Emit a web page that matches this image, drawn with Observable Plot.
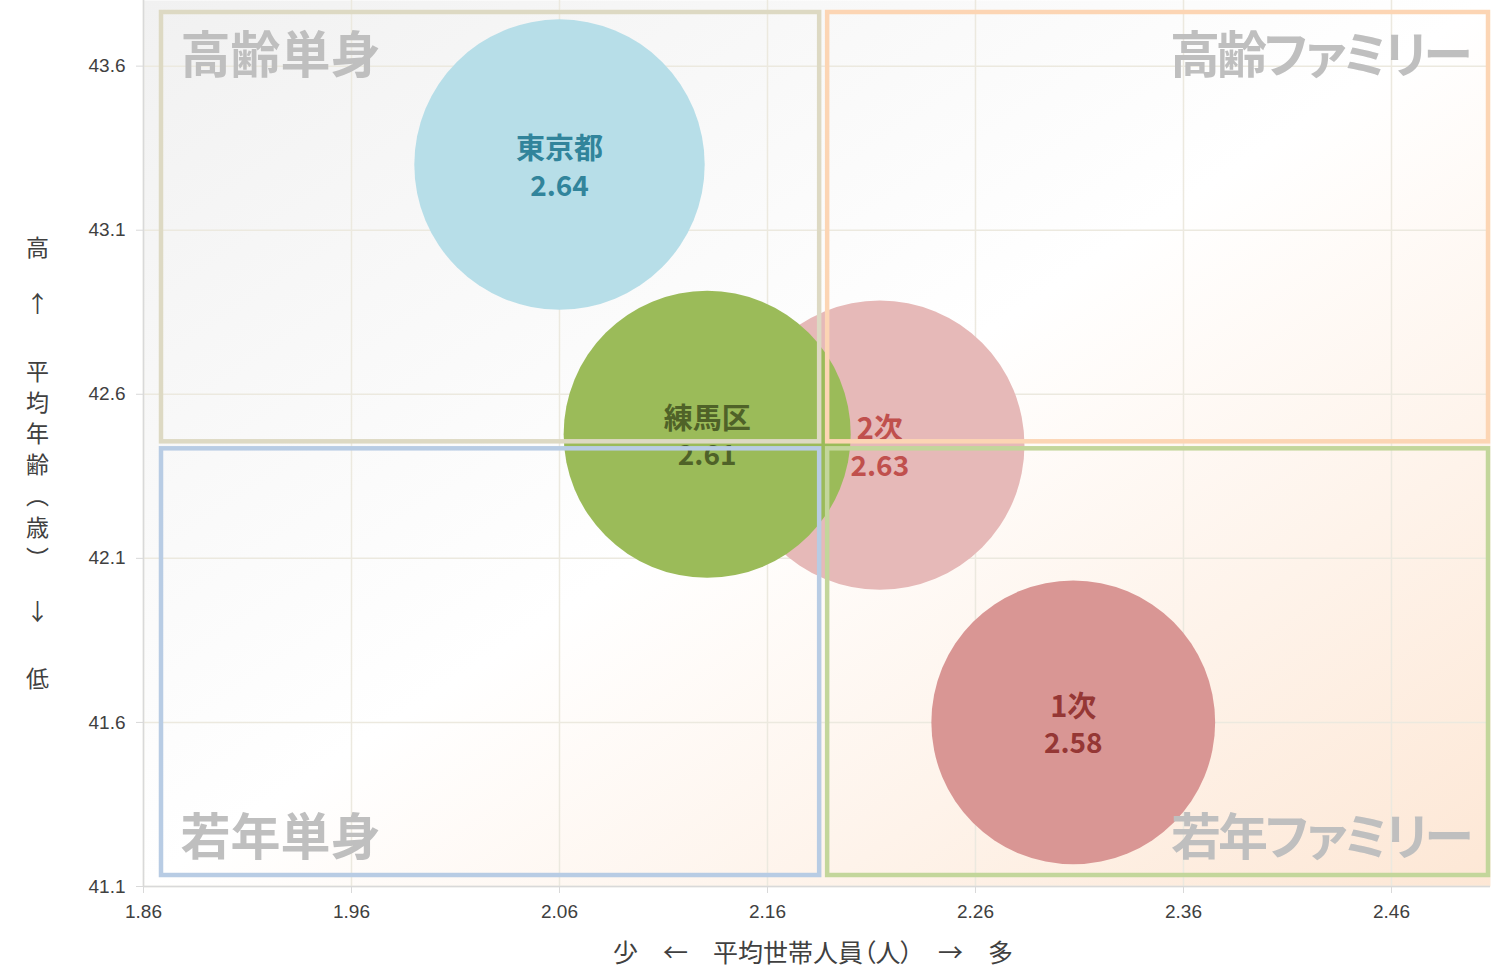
<!DOCTYPE html>
<html>
<head>
<meta charset="utf-8">
<script src="https://cdn.jsdelivr.net/npm/d3@7"></script>
<script src="https://cdn.jsdelivr.net/npm/@observablehq/plot@0.6"></script>
<style>
  html, body { margin: 0; padding: 0; background: #ffffff; overflow: hidden; }
  svg text { font-feature-settings: "palt"; }
</style>
</head>
<body>
<div id="chart"></div>
<script>
// ---- data ----
const names = ["東京都", "2次", "練馬区", "1次"];
const householdSize = [2.06, 2.214, 2.131, 2.307];   // 平均世帯人員（人）
const averageAge = [43.30, 42.445, 42.478, 41.60];    // 平均年齢（歳）
const bubbleValue = [2.64, 2.63, 2.61, 2.58];
const bubbleFill = ["#b7dee8", "#e6b9b8", "#9bbb59", "#d99694"];
const labelColor = ["#31849b", "#c0504d", "#4f6228", "#953735"];

const xTicks = [1.86, 1.96, 2.06, 2.16, 2.26, 2.36, 2.46];
const yTicks = [41.1, 41.6, 42.1, 42.6, 43.1, 43.6];
const xDomain = [1.86, 2.5076];
const yDomain = [41.1, 43.8];

const quadrantNames = ["高齢単身", "高齢ファミリー", "若年単身", "若年ファミリー"];
const quadrantStroke = ["#ddd9c3", "#fcd5b4", "#b8cce4", "#c3d69b"];
const centerX = 2.187;
const centerY = 42.446;

const xLabel = "少\u2003←\u2003平均世帯人員（人）\u2003→\u2003多";
const yLabelTop = "高";
const yLabelUp = "↑";
const yLabelMain = ["平", "均", "年", "齢", "︵", "歳", "︶"];
const yLabelDown = "↓";
const yLabelBottom = "低";

// ---- derived tables ----
const bubbles = names.map((n, i) => ({
  name: n, x: householdSize[i], y: averageAge[i], v: bubbleValue[i],
  fill: bubbleFill[i], color: labelColor[i]
}));
const quads = [
  {name: quadrantNames[0], x1: xDomain[0], x2: centerX, y1: centerY, y2: yDomain[1], stroke: quadrantStroke[0]},
  {name: quadrantNames[1], x1: centerX, x2: xDomain[1], y1: centerY, y2: yDomain[1], stroke: quadrantStroke[1]},
  {name: quadrantNames[2], x1: xDomain[0], x2: centerX, y1: yDomain[0], y2: centerY, stroke: quadrantStroke[2]},
  {name: quadrantNames[3], x1: centerX, x2: xDomain[1], y1: yDomain[0], y2: centerY, stroke: quadrantStroke[3]}
];
const quadInsets = [
  {insetLeft: 18, insetRight: 4, insetTop: 12, insetBottom: 3},
  {insetLeft: 4, insetRight: 2, insetTop: 12, insetBottom: 3},
  {insetLeft: 18, insetRight: 4, insetTop: 4, insetBottom: 11},
  {insetLeft: 4, insetRight: 2, insetTop: 4, insetBottom: 11}
];
const quadLabelPos = [
  {frameAnchor: "top-left", textAnchor: "start", dx: 37, dy: 56},
  {frameAnchor: "top-right", textAnchor: "end", dx: -21, dy: 56},
  {frameAnchor: "bottom-left", textAnchor: "start", dx: 37, dy: -48},
  {frameAnchor: "bottom-right", textAnchor: "end", dx: -20, dy: -48}
];

const CJK = "'Noto Sans CJK JP', 'Noto Sans', sans-serif";
const axisColor = "#d9d9d9";
const gridColor = "#ece9df";
const axisText = "#404040";

const yLab = (t, dy) => Plot.text([t], {frameAnchor: "left", textAnchor: "middle", dx: -106, dy, fontSize: 23, lineHeight: 1.35, fill: axisText, fontFamily: CJK, lineAnchor: "middle"});

const chart = Plot.plot({
  width: 1501,
  height: 967,
  marginLeft: 143,
  marginRight: 11,
  marginTop: 0,
  marginBottom: 81,
  style: {fontFamily: "'Liberation Sans', Arial, sans-serif", background: "#ffffff"},
  x: {domain: xDomain, ticks: xTicks, label: null},
  y: {domain: yDomain, ticks: yTicks, label: null},
  r: {type: "linear", domain: [0, 1], range: [0, 55]},
  marks: [
    Plot.frame({fill: "url(#plotBg)", stroke: null}),
    Plot.gridX(xTicks, {stroke: gridColor, strokeOpacity: 1, strokeWidth: 1.5}),
    Plot.gridY(yTicks, {stroke: gridColor, strokeOpacity: 1, strokeWidth: 1.5}),
    Plot.ruleX([xDomain[0]], {stroke: axisColor, strokeWidth: 1.5}),
    Plot.ruleY([yDomain[0]], {stroke: axisColor, strokeWidth: 1.5}),
    Plot.axisX(xTicks, {tickSize: 7, tickPadding: 11, stroke: axisColor, fill: axisText, fontSize: 19, tickFormat: d3.format(".2f"), label: null}),
    Plot.axisY(yTicks, {tickSize: 7, tickPadding: 11, stroke: axisColor, fill: axisText, fontSize: 19, tickFormat: d3.format(".1f"), label: null}),
    Plot.dot(bubbles, {x: "x", y: "y", r: "v", fill: "fill", fillOpacity: 1, stroke: null}),
    Plot.text(bubbles, {x: "x", y: "y", text: "name", fill: "color", dy: -15, fontSize: 29, fontWeight: "bold", fontFamily: CJK, lineAnchor: "middle"}),
    Plot.text(bubbles, {x: "x", y: "y", text: d => d3.format(".2f")(d.v), fill: "color", dy: 22, fontSize: 28, fontWeight: "bold", fontFamily: CJK, lineAnchor: "middle"}),
    ...quads.map((q, i) => Plot.rect([q], {x1: "x1", x2: "x2", y1: "y1", y2: "y2", fill: "none", stroke: "stroke", strokeWidth: 4.5, ...quadInsets[i]})),
    ...quads.map((q, i) => Plot.text([q], {text: "name", fill: "#bfbfbf", fontSize: 50, fontWeight: "bold", fontFamily: CJK, lineAnchor: "middle", ...quadLabelPos[i]})),
    Plot.text([xLabel], {frameAnchor: "bottom", dx: -4, dy: 67, fontSize: 25, fill: axisText, fontFamily: CJK, lineAnchor: "middle"}),
    yLab(yLabelTop, -197),
    yLab(yLabelUp, -141),
    yLab(yLabelMain.join("\n"), 20),
    yLab(yLabelDown, 167),
    yLab(yLabelBottom, 234)
  ]
});

const ns = "http://www.w3.org/2000/svg";
const defs = document.createElementNS(ns, "defs");
defs.innerHTML = '<linearGradient id="plotBg" x1="0" y1="0" x2="1" y2="1">' +
  '<stop offset="0" stop-color="#f1f1f1"/>' +
  '<stop offset="0.5" stop-color="#ffffff"/>' +
  '<stop offset="1" stop-color="#fde7d5"/>' +
  '</linearGradient>';
chart.insertBefore(defs, chart.firstChild);
chart.querySelectorAll("text").forEach(t => {
  if (/ファミリー/.test(t.textContent)) t.style.letterSpacing = "-3px";
});
document.getElementById("chart").appendChild(chart);
</script>
</body>
</html>
